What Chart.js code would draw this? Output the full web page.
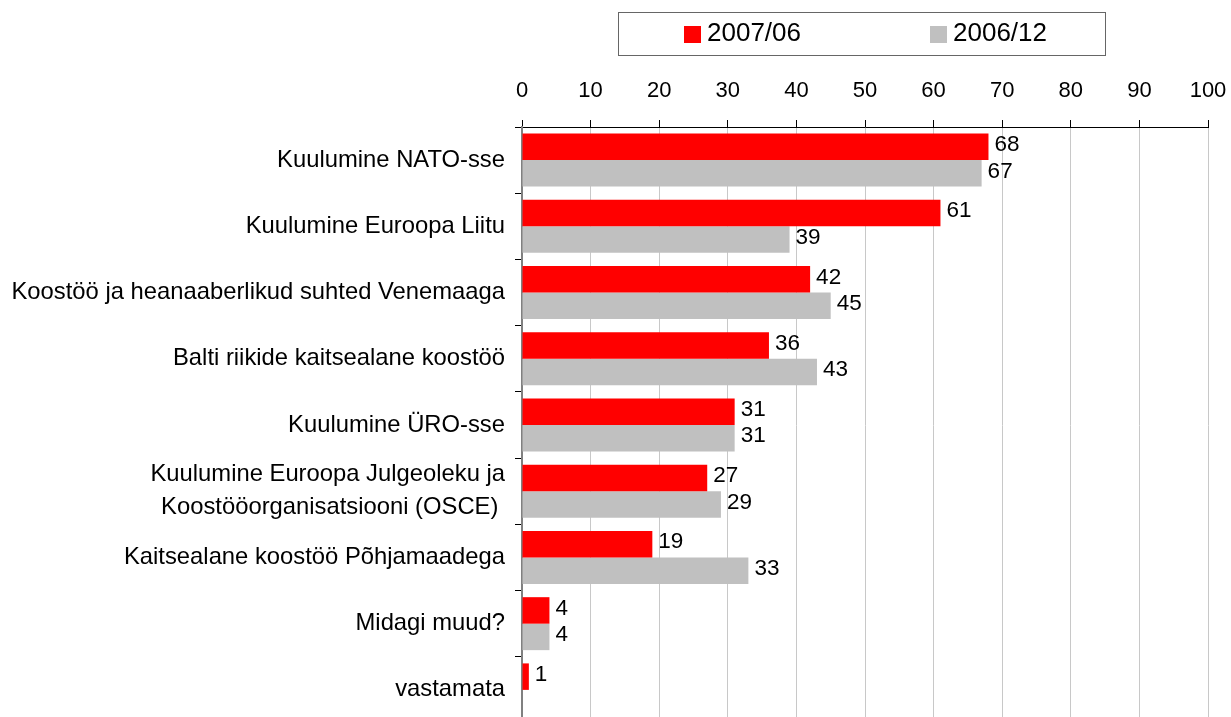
<!DOCTYPE html>
<html lang="et">
<head>
<meta charset="utf-8">
<title>Eesti julgeoleku tagatised</title>
<script src="https://cdn.jsdelivr.net/npm/chart.js@4/dist/chart.umd.min.js"></script>
<style>
  html, body { margin: 0; padding: 0; background: #fff; overflow: hidden; }
  #wrap { position: relative; width: 1231px; height: 723px; }
</style>
</head>
<body>
<div id="wrap"><canvas id="securityChart"></canvas></div>
<script>
  const categories = [
    'Kuulumine NATO-sse',
    'Kuulumine Euroopa Liitu',
    'Koostöö ja heanaaberlikud suhted Venemaaga',
    'Balti riikide kaitsealane koostöö',
    'Kuulumine ÜRO-sse',
    ['Kuulumine Euroopa Julgeoleku ja', 'Koostööorganisatsiooni (OSCE) '],
    'Kaitsealane koostöö Põhjamaadega',
    'Midagi muud?',
    'vastamata'
  ];
  const seriesNames = ['2007/06', '2006/12'];
  const values2007 = [68, 61, 42, 36, 31, 27, 19, 4, 1];
  const values2006 = [67, 39, 45, 43, 31, 29, 33, 4, null];
  const axisMin = 0;
  const axisMax = 100;
  const axisStep = 10;

  const FONT = "'Liberation Sans', Arial, Helvetica, sans-serif";

  // legend in a framed box above the axis
  const boxLegend = {
    id: 'boxLegend',
    afterDraw(chart) {
      const ctx = chart.ctx;
      const starts = [684, 930];
      ctx.save();
      ctx.strokeStyle = '#666';
      ctx.lineWidth = 1;
      ctx.strokeRect(618.5, 12.5, 487, 43);
      ctx.font = '26px ' + FONT;
      ctx.textBaseline = 'middle';
      ctx.textAlign = 'left';
      chart.data.datasets.forEach((ds, i) => {
        ctx.fillStyle = ds.backgroundColor;
        ctx.fillRect(starts[i], 26, 17, 17);
        ctx.fillStyle = '#000';
        ctx.fillText(ds.label, starts[i] + 23, 34);
      });
      ctx.restore();
    }
  };

  // value labels right of each bar
  const valueLabels = {
    id: 'valueLabels',
    afterDatasetsDraw(chart) {
      const ctx = chart.ctx;
      ctx.save();
      ctx.font = '22.5px ' + FONT;
      ctx.fillStyle = '#000';
      ctx.textBaseline = 'middle';
      ctx.textAlign = 'left';
      chart.data.datasets.forEach((ds, i) => {
        chart.getDatasetMeta(i).data.forEach((bar, j) => {
          const v = ds.data[j];
          if (v == null) return;
          ctx.fillText(String(v), bar.x + 6, bar.y - 2);
        });
      });
      ctx.restore();
    }
  };

  // keep the plot area where the layout padding puts it
  function noOverhang(s) {
    s.paddingLeft = 0; s.paddingRight = 0;
    s.paddingTop = 0; s.paddingBottom = 0;
  }

  const ctx = document.getElementById('securityChart').getContext('2d');
  new Chart(ctx, {
    type: 'bar',
    data: {
      labels: categories,
      datasets: [
        { label: seriesNames[0], data: values2007, backgroundColor: '#ff0000', barPercentage: 1, categoryPercentage: 0.8 },
        { label: seriesNames[1], data: values2006, backgroundColor: '#c0c0c0', barPercentage: 1, categoryPercentage: 0.8 }
      ]
    },
    options: {
      indexAxis: 'y',
      responsive: true,
      maintainAspectRatio: false,
      animation: false,
      events: [],
      layout: { padding: { top: 60, right: 23, bottom: 0, left: 0 } },
      plugins: {
        legend: { display: false },
        tooltip: { enabled: false }
      },
      scales: {
        x: {
          position: 'top',
          min: axisMin,
          max: axisMax,
          ticks: { stepSize: axisStep, padding: 16, color: '#000', font: { family: FONT, size: 22 } },
          grid: { color: '#c8c8c8', tickColor: '#000', tickLength: 7 },
          border: { color: '#000', width: 1 },
          afterFit(s) { s.height = 67; noOverhang(s); }
        },
        y: {
          ticks: { padding: 10, color: '#000', autoSkip: false, font: { family: FONT, size: 23.8, lineHeight: 1.37 } },
          grid: { drawOnChartArea: false, tickColor: '#000', tickLength: 7, offset: true },
          border: { color: '#808080', width: 2 },
          afterFit(s) { s.width = 522; noOverhang(s); }
        }
      }
    },
    plugins: [valueLabels, boxLegend]
  });
</script>
</body>
</html>
